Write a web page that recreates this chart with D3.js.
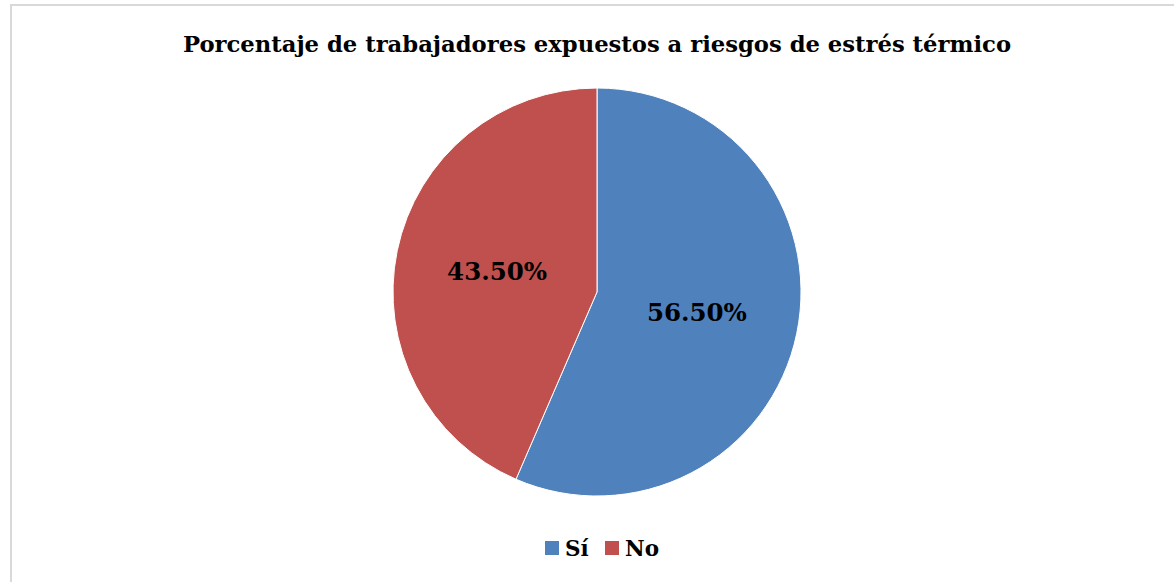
<!DOCTYPE html>
<html>
<head>
<meta charset="utf-8">
<script src="https://cdn.jsdelivr.net/npm/d3@7"></script>
<style>
  body { margin: 0; background: #fff; }
  svg { display: block; }
</style>
</head>
<body>
<svg id="chart"></svg>
<script>
const categories = ['Sí', 'No'];
const values = [56.5, 43.5];
const colors = ['#4F81BD', '#C0504D'];
const title = 'Porcentaje de trabajadores expuestos a riesgos de estrés térmico';

const width = 1174;
const height = 582;
const font = '"DejaVu Serif", "Liberation Serif", serif';

const svg = d3.select('#chart')
  .attr('width', width)
  .attr('height', height);

// chart frame
svg.append('rect')
  .attr('x', 11)
  .attr('y', 5)
  .attr('width', width + 20)
  .attr('height', height + 20)
  .attr('fill', 'none')
  .attr('stroke', '#d9d9d9')
  .attr('stroke-width', 2);

// title
svg.append('text')
  .attr('x', 597)
  .attr('y', 52)
  .attr('text-anchor', 'middle')
  .style('font-family', font)
  .style('font-weight', 'bold')
  .style('font-size', '22.7px')
  .attr('fill', '#000')
  .text(title);

// pie
const cx = 597, cy = 292, radius = 204;
const data = categories.map((c, i) => ({ name: c, value: values[i], color: colors[i] }));

const pie = d3.pie()
  .value(d => d.value)
  .sort(null);

const arc = d3.arc()
  .innerRadius(0)
  .outerRadius(radius);

const labelArc = d3.arc()
  .innerRadius(radius * 0.5)
  .outerRadius(radius * 0.5);

const g = svg.append('g')
  .attr('transform', `translate(${cx}, ${cy})`);

const arcs = pie(data);

g.selectAll('path')
  .data(arcs)
  .enter().append('path')
  .attr('d', arc)
  .attr('fill', d => d.data.color)
  .attr('stroke', '#fff')
  .attr('stroke-width', 1);

g.selectAll('.label')
  .data(arcs)
  .enter().append('text')
  .attr('class', 'label')
  .attr('transform', d => `translate(${labelArc.centroid(d)})`)
  .attr('text-anchor', 'middle')
  .attr('dy', '0.35em')
  .style('font-family', font)
  .style('font-weight', 'bold')
  .style('font-size', '24.5px')
  .attr('fill', '#000')
  .text(d => d.data.value.toFixed(2) + '%');

// legend
const legendY = 548;
const legend = svg.append('g');
const itemX = [545, 605];

categories.forEach((c, i) => {
  legend.append('rect')
    .attr('x', itemX[i])
    .attr('y', legendY - 7)
    .attr('width', 14)
    .attr('height', 14)
    .attr('fill', colors[i]);
  legend.append('text')
    .attr('x', itemX[i] + 20)
    .attr('y', legendY)
    .attr('dy', '0.35em')
    .style('font-family', font)
    .style('font-weight', 'bold')
    .style('font-size', '21.5px')
    .attr('fill', '#000')
    .text(c);
});
</script>
</body>
</html>
